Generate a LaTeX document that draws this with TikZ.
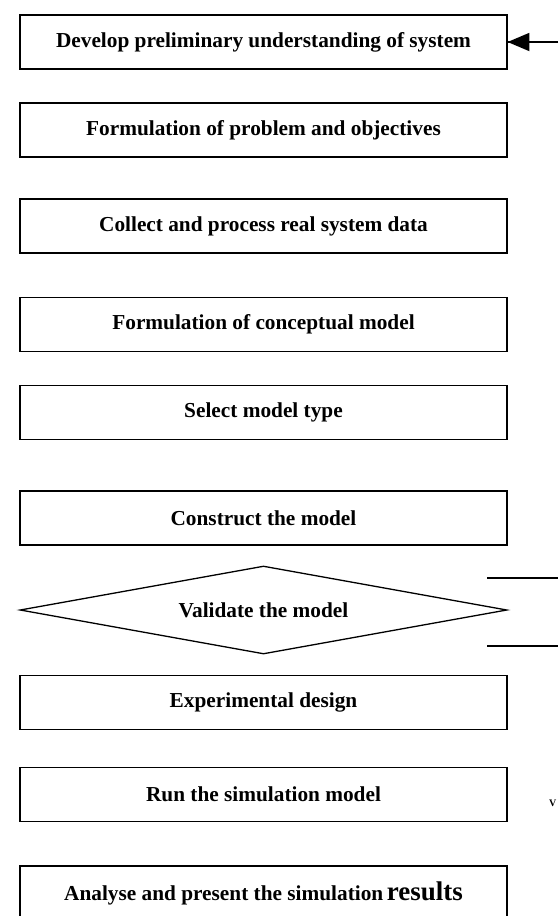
\documentclass[tikz,border=0pt]{standalone}
\usepackage{fontspec}
\setmainfont{Liberation Serif}
\usepackage{tikz}
\usetikzlibrary{arrows}
\usetikzlibrary{decorations.markings}
\usetikzlibrary{shapes.geometric}
\tikzset{feed/.style = {decoration={markings,
                                    mark=at position 1 with {\arrow[scale=2.2]{triangle 45}}},
                        postaction={decorate}}}
\tikzset{stage/.style = {draw, line width = 1.3pt, minimum width = 487pt, minimum height = 54pt,
                         inner sep = 0, font = \fontsize{21.3}{25}\selectfont\bfseries}}
\tikzset{check/.style = {draw, line width = 1.3pt, shape = diamond, aspect = 5.5,
                         minimum width = 487pt, minimum height = 88pt, inner sep = 0,
                         font = \fontsize{21.3}{25}\selectfont\bfseries}}

\begin{document}
\begin{tikzpicture}[x = 1pt, y = -1pt]
      \useasboundingbox (0, 0) rectangle (558, 916);
      \node [stage] (understand) at (263.5, 42) {Develop preliminary understanding of system};
      \node [stage] (problem) at (263.5, 130) {Formulation of problem and objectives};
      \node [stage] (data) at (263.5, 226) {Collect and process real system data};
      \node [stage] (concept) at (263.5, 324.5) {Formulation of conceptual model};
      \node [stage] (type) at (263.5, 412.5) {Select model type};
      \node [stage] (construct) at (263.5, 518) {Construct the model};
      \node [check] (validate) at (263.5, 610) {Validate the model};
      \node [stage] (design) at (263.5, 702.5) {Experimental design};
      \node [stage] (run) at (263.5, 794.5) {Run the simulation model};
      \node [stage] (present) at (263.5, 893) {Analyse and present the simulation\,{\fontsize{27}{30}\selectfont results}};
      \coordinate (back) at (558, 42);
      \coordinate (upA) at (487, 578);
      \coordinate (upB) at (558, 578);
      \coordinate (lowA) at (487, 646);
      \coordinate (lowB) at (558, 646);
      \draw [line width = 1.3pt, feed] (back) -- (understand.east);
      \draw [line width = 1.3pt] (upA) -- (upB);
      \draw [line width = 1.3pt] (lowA) -- (lowB);
      \node [anchor = west, inner sep = 0, font = \fontsize{10}{10}\selectfont\bfseries] (mark) at (549, 803) {V};
    \end{tikzpicture}
\end{document}
